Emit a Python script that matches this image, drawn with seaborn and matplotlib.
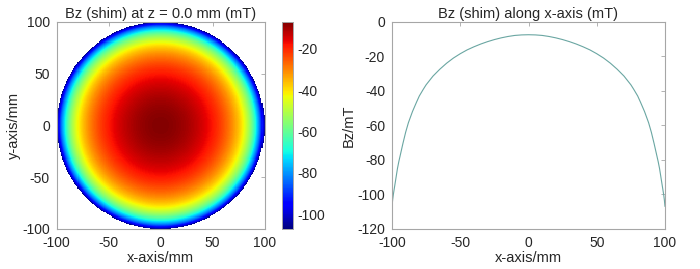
import numpy as np
import pandas as pd
import seaborn as sns
import matplotlib
matplotlib.use("Agg")
import matplotlib.pyplot as plt

sns.set_theme(style="white")
plt.rcParams["font.family"] = ["Liberation Sans", "DejaVu Sans"]
plt.rcParams.update({
    "font.size": 10,
    "axes.labelsize": 10.5,
    "axes.titlesize": 10.5,
    "xtick.labelsize": 10,
    "ytick.labelsize": 10,
    "axes.unicode_minus": False,
    "axes.edgecolor": "#a6a6a6",
    "axes.linewidth": 0.8,
    "xtick.color": "#a6a6a6",
    "ytick.color": "#a6a6a6",
    "xtick.labelcolor": "#262626",
    "ytick.labelcolor": "#262626",
    "xtick.direction": "in",
    "ytick.direction": "in",
    "xtick.major.size": 3,
    "ytick.major.size": 3,
    "xtick.major.width": 0.6,
    "ytick.major.width": 0.6,
    "xtick.major.pad": 5,
    "ytick.major.pad": 5,
    "xtick.top": True,
    "ytick.right": True,
})

# profile of Bz (mT) along the x-axis
profile_x = [-100, -99.5, -99, -98.5, -98, -97, -96, -95, -94, -93, -92, -90, -88, -85, -82, -80, -77, -75, -70,
             -65, -60, -55, -50, -45, -40, -35, -30, -25, -20, -15, -10, -5, 0,
             5, 10, 15, 20, 25, 30, 35, 40, 45, 50, 55, 60, 65, 70,
             75, 77, 80, 82, 85, 88, 90, 92, 93, 94, 95, 96, 97, 98, 98.5, 99, 99.5, 100]
profile_bz = [-107, -103, -100, -97.5, -95, -90, -85, -81, -77.5, -74, -70.5, -64, -58.5, -52, -46.5, -43, -39, -36.5, -31.5,
              -27.5, -24, -21, -18.5, -16.3, -14.5, -12.9, -11.5, -10.3, -9.3, -8.5, -7.9, -7.6, -7.5,
              -7.6, -7.9, -8.5, -9.3, -10.3, -11.5, -12.9, -14.5, -16.3, -18.5, -21, -24, -27.5, -31.5,
              -36.5, -39, -43, -46.5, -52, -58.5, -64, -70.5, -74, -77.5, -81, -85, -90, -95, -97.5, -100, -103, -107]
axis_ticks = [-100, -50, 0, 50, 100]
cbar_ticks = [-100, -80, -60, -40, -20]
bz_ticks = [-120, -100, -80, -60, -40, -20, 0]

# field map in the z = 0 plane, built from the radial profile
centres = np.arange(-99.5, 100, 1.0)
gx, gy = np.meshgrid(centres, centres[::-1])
r = np.hypot(gx, gy)
mid = profile_x.index(0)
half_x = np.array(profile_x[mid:], dtype=float)
half_bz = np.array(profile_bz[mid:], dtype=float)
field = np.interp(r, half_x, half_bz)
field[r > 100] = np.nan
field_df = pd.DataFrame(field, index=centres[::-1], columns=centres)

fig = plt.figure(figsize=(7.0, 2.69), dpi=100)
ax1 = fig.add_axes([0.081, 0.149, 0.297, 0.770])
cax = fig.add_axes([0.403, 0.149, 0.016, 0.770])
ax2 = fig.add_axes([0.560, 0.149, 0.390, 0.770])

sns.heatmap(field_df, ax=ax1, cmap="jet", vmin=-107, vmax=-7, cbar_ax=cax,
            xticklabels=False, yticklabels=False, rasterized=True)
pos = [t + 100 for t in axis_ticks]
ax1.set_xticks(pos)
ax1.set_xticklabels(axis_ticks)
ax1.set_yticks([200 - p for p in pos])
ax1.set_yticklabels(axis_ticks)
ax1.tick_params(labelrotation=0, direction="in", length=3, top=True, right=True,
                color="#a6a6a6", labelcolor="#262626", pad=5)
for s in ax1.spines.values():
    s.set_visible(True)
    s.set_color("#a6a6a6")
    s.set_linewidth(0.8)
ax1.set_xlabel("x-axis/mm", color="#262626", labelpad=1)
ax1.set_ylabel("y-axis/mm", color="#262626", labelpad=1)
ax1.set_title("Bz (shim) at z = 0.0 mm (mT)", color="#262626", pad=3)

cax.set_yticks(cbar_ticks)
cax.set_yticklabels(cbar_ticks)
cax.tick_params(direction="in", length=2, color="#a6a6a6", labelcolor="#262626",
                labelsize=10, right=True, left=True, pad=3)
for s in cax.spines.values():
    s.set_visible(True)
    s.set_color("#a6a6a6")
    s.set_linewidth(0.6)

line_df = pd.DataFrame({"x": profile_x, "bz": profile_bz})
sns.lineplot(data=line_df, x="x", y="bz", ax=ax2, color="#6aa6a2", linewidth=0.8)
ax2.set_xlim(-100, 100)
ax2.set_ylim(-120, 0)
ax2.set_xticks(axis_ticks)
ax2.set_yticks(bz_ticks)
ax2.set_xlabel("x-axis/mm", color="#262626", labelpad=1)
ax2.set_ylabel("Bz/mT", color="#262626", labelpad=1)
ax2.set_title("Bz (shim) along x-axis (mT)", color="#262626", pad=3)

fig.savefig("out.png", dpi=100)
